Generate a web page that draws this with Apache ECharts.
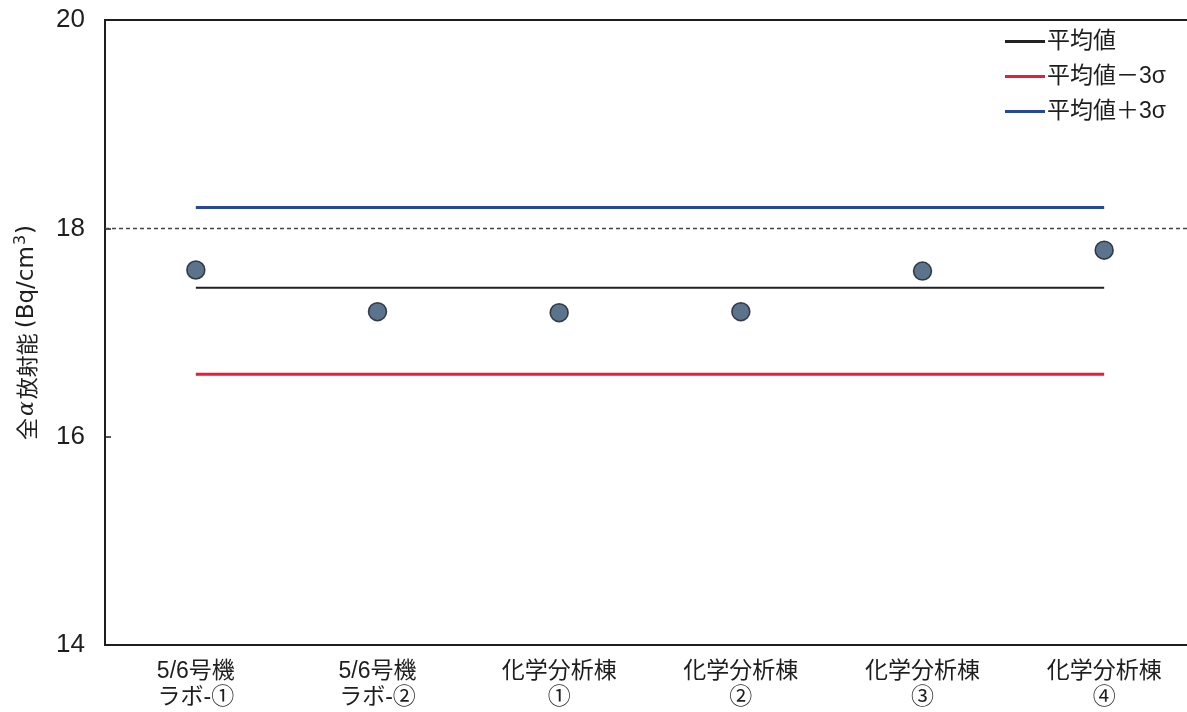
<!DOCTYPE html>
<html>
<head>
<meta charset="utf-8">
<script src="https://cdn.jsdelivr.net/npm/echarts@6/dist/echarts.min.js"></script>
<style>
  html, body { margin: 0; padding: 0; background: #ffffff; }
  #chart { width: 1187px; height: 712px; }
</style>
</head>
<body>
<div id="chart"></div>
<script>
// Sampling locations (two-line labels)
const categories = [
  '5/6号機\nラボ-①',
  '5/6号機\nラボ-②',
  '化学分析棟\n①',
  '化学分析棟\n②',
  '化学分析棟\n③',
  '化学分析棟\n④'
];

// Gross alpha activity per location (Bq/cm3)
const measured = [17.60, 17.20, 17.19, 17.20, 17.59, 17.79];

// Reference lines across all locations
const meanLine  = [17.43, 17.43, 17.43, 17.43, 17.43, 17.43];
const lowerLine = [16.60, 16.60, 16.60, 16.60, 16.60, 16.60];
const upperLine = [18.20, 18.20, 18.20, 18.20, 18.20, 18.20];

// Y axis range and dotted reference level
const yMin = 14, yMax = 20, yStep = 2;
const refLevel = 18;

const FONT = "'Liberation Sans', 'Noto Sans CJK JP', sans-serif";
const WIDE = "'DejaVu Sans', 'Noto Sans CJK JP', sans-serif";
const INK = '#1e1e1e';

const chart = echarts.init(document.getElementById('chart'), null, { renderer: 'canvas' });

chart.setOption({
  backgroundColor: '#ffffff',
  animation: false,
  grid: {
    left: 105, top: 20, bottom: 67, right: -8,
    containLabel: false, outerBoundsMode: 'none',
    show: true, borderColor: INK, borderWidth: 2, backgroundColor: 'transparent'
  },
  legend: {
    left: 1000, top: 24, orient: 'vertical',
    icon: 'rect', itemWidth: 40, itemHeight: 3, itemGap: 10,
    textStyle: { fontFamily: FONT, fontSize: 23, color: INK, lineHeight: 25, padding: [0, 0, 0, -3] },
    data: ['平均値', '平均値－3σ', '平均値＋3σ']
  },
  xAxis: {
    type: 'category',
    data: categories,
    boundaryGap: true,
    axisLine: { lineStyle: { color: INK, width: 2 } },
    axisTick: { inside: true, length: 5, lineStyle: { color: INK, width: 1.5 } },
    axisLabel: { fontFamily: FONT, fontSize: 23, color: INK, lineHeight: 26, margin: 14 },
    splitLine: { show: false }
  },
  yAxis: {
    type: 'value',
    min: yMin, max: yMax, interval: yStep,
    name: '{cjk|全}{alpha|α}{cjk|放射能 }{lat|(Bq/cm}{sup|3}{lat|)}',
    nameLocation: 'middle', nameRotate: 90, nameGap: 64,
    nameTextStyle: {
      fontFamily: FONT, fontSize: 22, color: INK,
      rich: {
        cjk: { fontFamily: "'Noto Sans CJK JP', sans-serif", fontSize: 22, color: INK },
        alpha: { fontFamily: "'DejaVu Serif', serif", fontStyle: 'italic', fontSize: 22, color: INK, padding: [0, 2, 0, 2] },
        lat: { fontFamily: WIDE, fontSize: 23, color: INK },
        sup: { fontFamily: WIDE, fontSize: 16, color: INK, verticalAlign: 'top', padding: [0, 1, 12, 1] }
      }
    },
    axisLine: { show: true, lineStyle: { color: INK, width: 2 } },
    axisTick: { show: true, inside: true, length: 6, lineStyle: { color: INK, width: 1.5 } },
    axisLabel: { fontFamily: FONT, fontSize: 26, color: INK, margin: 20 },
    splitLine: { show: false }
  },
  series: [
    {
      name: '平均値', type: 'line', data: meanLine,
      symbol: 'none', color: '#222222',
      lineStyle: { color: '#222222', width: 2 }, z: 2,
      markLine: {
        silent: true, symbol: 'none', label: { show: false },
        lineStyle: { color: '#444444', type: [4, 3], width: 1.3 },
        data: [{ yAxis: refLevel }]
      }
    },
    {
      name: '平均値－3σ', type: 'line', data: lowerLine,
      symbol: 'none', color: '#e61e3c',
      lineStyle: { color: '#e61e3c', width: 3 }, z: 2
    },
    {
      name: '平均値＋3σ', type: 'line', data: upperLine,
      symbol: 'none', color: '#27479a',
      lineStyle: { color: '#27479a', width: 3 }, z: 2
    },
    {
      name: '測定値', type: 'scatter', data: measured,
      symbol: 'circle', symbolSize: 18,
      itemStyle: { color: '#33506f', borderColor: '#141c28', borderWidth: 1.5 },
      z: 5
    }
  ]
});
</script>
</body>
</html>
